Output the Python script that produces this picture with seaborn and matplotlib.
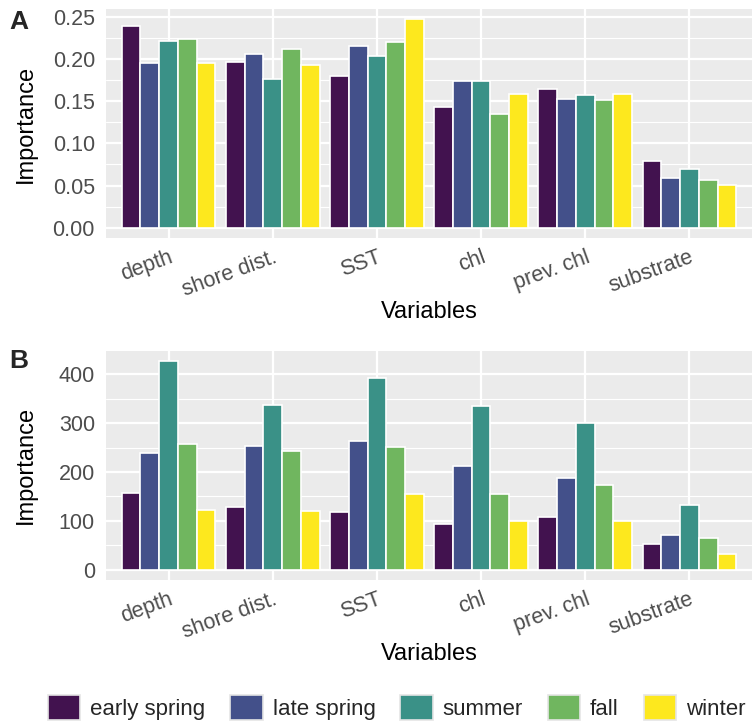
import matplotlib
matplotlib.use("Agg")
import matplotlib.pyplot as plt
from matplotlib.patches import Patch
from matplotlib.ticker import MultipleLocator
import seaborn as sns
import pandas as pd

sns.set_theme(style="darkgrid")
plt.rcParams['font.family'] = ['Liberation Sans', 'DejaVu Sans']

variables = ["depth", "shore dist.", "SST", "chl", "prev. chl", "substrate"]
seasons = ["early spring", "late spring", "summer", "fall", "winter"]
season_colors = ["#42124F", "#43508A", "#3A9187", "#70B65F", "#FDE81E"]

# panel A (rows = seasons, cols = variables)
imp_a = {
    "early spring": [0.239, 0.196, 0.180, 0.143, 0.165, 0.079],
    "late spring":  [0.195, 0.206, 0.215, 0.174, 0.153, 0.059],
    "summer":       [0.222, 0.176, 0.204, 0.174, 0.157, 0.069],
    "fall":         [0.224, 0.212, 0.220, 0.135, 0.152, 0.056],
    "winter":       [0.195, 0.193, 0.247, 0.158, 0.158, 0.051],
}
# panel B
imp_b = {
    "early spring": [157, 128, 118, 94, 108, 53],
    "late spring":  [239, 253, 263, 212, 188, 71],
    "summer":       [427, 337, 392, 335, 300, 132],
    "fall":         [257, 243, 251, 155, 173, 65],
    "winter":       [122, 120, 155, 100, 100, 32],
}


def long_df(d):
    rows = []
    for s in seasons:
        for v, val in zip(variables, d[s]):
            rows.append({"Variables": v, "season": s, "Importance": val})
    return pd.DataFrame(rows)


W, H = 753, 723
fig = plt.figure(figsize=(W / 100, H / 100), dpi=100)
fig.patch.set_facecolor("white")

left, right = 106 / W, 752 / W
axA = fig.add_axes([left, 1 - 238 / H, right - left, (238 - 9.3) / H])
axB = fig.add_axes([left, 1 - 580 / H, right - left, (580 - 350.7) / H])

tick_col = "#4D4D4D"
for ax, d, major, minor, ylim in [
    (axA, imp_a, 0.05, 0.025, (-0.0123, 0.2591)),
    (axB, imp_b, 100, 50, (-21.35, 448.35)),
]:
    df = long_df(d)
    sns.barplot(data=df, x="Variables", y="Importance", hue="season",
                hue_order=seasons, palette=season_colors, width=0.9,
                edgecolor="white", linewidth=1.2, saturation=1,
                legend=False, ax=ax)
    ax.set_facecolor("#EBEBEB")
    ax.set_xlim(-0.6, 5.6)
    ax.set_ylim(*ylim)
    ax.yaxis.set_major_locator(MultipleLocator(major))
    ax.yaxis.set_minor_locator(MultipleLocator(minor))
    ax.grid(which="major", color="white", linewidth=1.6)
    ax.grid(which="minor", axis="y", color="white", linewidth=0.8)
    ax.set_axisbelow(True)
    for sp in ax.spines.values():
        sp.set_visible(False)
    ax.tick_params(axis="both", which="major", length=4.5, width=1.1,
                   color="#333333", labelcolor=tick_col, labelsize=15.5,
                   direction="out", pad=3.5)
    ax.tick_params(axis="x", which="major", pad=2)
    ax.tick_params(axis="y", which="minor", length=0)
    for lab in ax.get_xticklabels():
        lab.set_rotation(20)
        lab.set_ha("right")
        lab.set_va("top")
        lab.set_rotation_mode("anchor")
    ax.set_xlabel("Variables", fontsize=17, color="black", labelpad=0)
    ax.set_ylabel("Importance", fontsize=17, color="black")

# y titles: right edge of the rotated text at about x = 37 px
for ax in (axA, axB):
    ax.yaxis.set_label_coords(-(106 - 37) / 646, 0.5)

axA.yaxis.set_major_formatter(matplotlib.ticker.FormatStrFormatter("%.2f"))

fig.text(9 / W, 1 - 22 / H, "A", fontsize=19, fontweight="bold", va="center")
fig.text(9 / W, 1 - 361 / H, "B", fontsize=19, fontweight="bold", va="center")

handles = [Patch(facecolor=c, edgecolor="#E5E5E5", linewidth=1.2) for c in season_colors]
fig.legend(handles, seasons, loc="center", bbox_to_anchor=(0.527, 0.022),
           ncol=5, frameon=False, fontsize=16, handlelength=1.45,
           handleheight=1.36, handletextpad=0.45, columnspacing=1.12,
           borderaxespad=0, borderpad=0)

fig.savefig("out.png", dpi=100, facecolor="white")
